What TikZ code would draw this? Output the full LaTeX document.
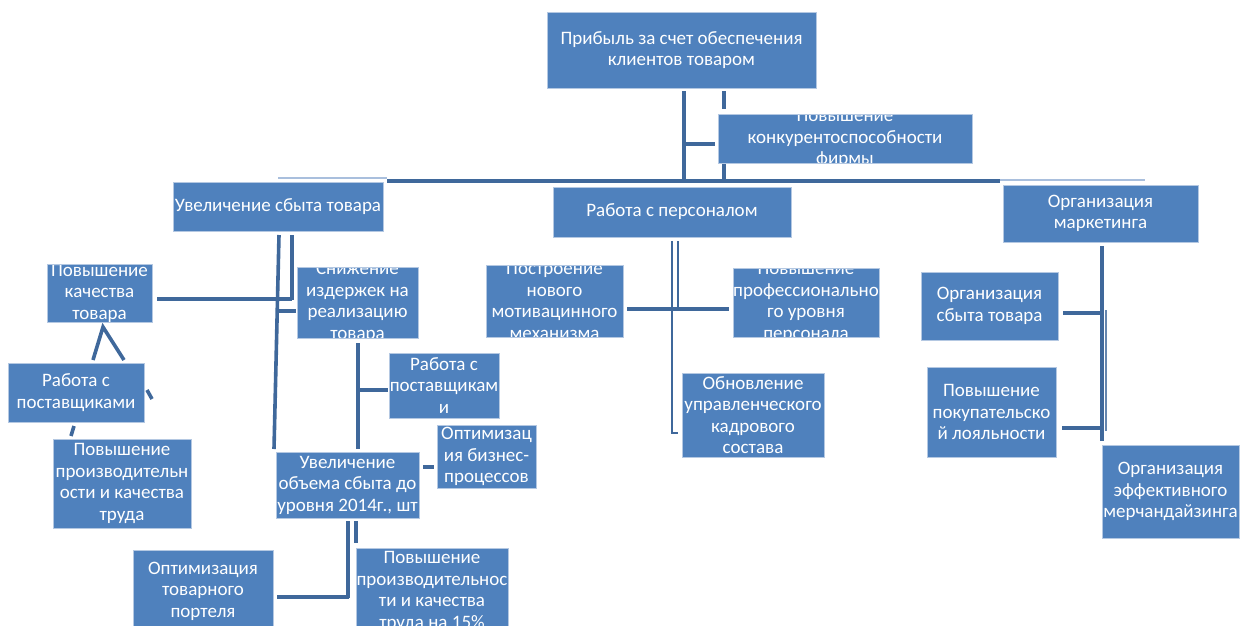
\documentclass[tikz,border=0pt]{standalone}
\usepackage{fontspec}
\setmainfont{Carlito}
\definecolor{boxfill}{HTML}{4F81BD}
\definecolor{boxline}{HTML}{B4C8E2}
\definecolor{conn}{HTML}{3F689B}
\definecolor{connlight}{HTML}{A9BFDD}
\tikzset{
  box/.style={rectangle, fill=boxfill, draw=boxline, line width=0.9pt, inner sep=0pt},
  txt/.style={text=white, align=center, inner sep=0pt, font=\fontsize{19}{21.5}\selectfont},
  cn/.style={draw=conn, line width=3.6pt},
  cnthin/.style={draw=conn, line width=2.2pt},
  cnlight/.style={draw=connlight, line width=2pt}
}
\newcommand\mybox[6]{%
  \node[box, minimum width={#4pt-#2pt}, minimum height={#5pt-#3pt},
    path picture={\node[txt] (#1t) at (path picture bounding box.center) {#6};}]
    (#1) at ({(#2+#4)/2},{(#3+#5)/2}) {};}
\begin{document}
\begin{tikzpicture}[x=1pt,y=-1pt]
\useasboundingbox[fill=white] (0,0) rectangle (1240,625);

% ---------- connectors ----------
% top
\coordinate (t1a) at (684,91);  \coordinate (t1b) at (684,182);
\coordinate (t2a) at (724,91);  \coordinate (t2b) at (724,109);
\coordinate (t3a) at (724,163); \coordinate (t3b) at (724,181);
\coordinate (t4a) at (684,144); \coordinate (t4b) at (715,144);
\coordinate (h0) at (278,178); \coordinate (h1) at (387,178);
\coordinate (h2) at (387,181); \coordinate (h3) at (1000,181);
\coordinate (h4) at (1000,180); \coordinate (h5) at (1145,180);
\draw[cn] (t1a) -- (t1b);
\draw[cn] (t2a) -- (t2b);
\draw[cn] (t3a) -- (t3b);
\draw[cn] (t4a) -- (t4b);
\draw[cnlight] (h0) -- (h1);
\draw[cn] (h2) -- (h3);
\draw[cnlight] (h4) -- (h5);

% left subtree
\coordinate (l1a) at (279,235); \coordinate (l1b) at (274,449);
\coordinate (l2a) at (292,235); \coordinate (l2b) at (292,300);
\coordinate (l3a) at (157,299); \coordinate (l3b) at (292,299);
\coordinate (l4a) at (279,311); \coordinate (l4b) at (296,311);
\coordinate (ap) at (103,327); \coordinate (apl) at (93,360); \coordinate (apr) at (124,360);
\coordinate (k1a) at (147,390); \coordinate (k1b) at (152,399);
\coordinate (k2a) at (74,426); \coordinate (k2b) at (71,436);
\draw[cn] (l1a) -- (l1b);
\draw[cn] (l2a) -- (l2b);
\draw[cn] (l3a) -- (l3b);
\draw[cn] (l4a) -- (l4b);
\draw[cn] (apl) -- (ap) -- (apr);
\draw[cn] (k1a) -- (k1b);
\draw[cn] (k2a) -- (k2b);
\coordinate (m1a) at (358,343); \coordinate (m1b) at (358,449);
\coordinate (m2a) at (358,390); \coordinate (m2b) at (388,390);
\coordinate (m3a) at (423,467); \coordinate (m3b) at (434,467);
\draw[cn] (m1a) -- (m1b);
\draw[cn] (m2a) -- (m2b);
\draw[cn] (m3a) -- (m3b);
\coordinate (b1a) at (348,521); \coordinate (b1b) at (348,598);
\coordinate (b2a) at (356,521); \coordinate (b2b) at (356,543);
\coordinate (b3a) at (277,597); \coordinate (b3b) at (349,597);
\draw[cn] (b1a) -- (b1b);
\draw[cn] (b2a) -- (b2b);
\draw[cn] (b3a) -- (b3b);

% middle subtree
\coordinate (p1a) at (672,241); \coordinate (p1b) at (672,433); \coordinate (p1c) at (678,433);
\coordinate (p2a) at (678,241); \coordinate (p2b) at (678,308);
\coordinate (p3a) at (627,309); \coordinate (p3b) at (729,309);
\draw[cnthin] (p1a) -- (p1b) -- (p1c);
\draw[cnthin] (p2a) -- (p2b);
\draw[cn] (p3a) -- (p3b);

% right subtree
\coordinate (r1a) at (1102,246); \coordinate (r1b) at (1102,441);
\coordinate (r2a) at (1106,310); \coordinate (r2b) at (1106,431);
\coordinate (r3a) at (1063,313); \coordinate (r3b) at (1103,313);
\coordinate (r4a) at (1062,428); \coordinate (r4b) at (1103,428);
\draw[cn] (r1a) -- (r1b);
\draw[draw=conn!80!white, line width=1.5pt] (r2a) -- (r2b);
\draw[cn] (r3a) -- (r3b);
\draw[cn] (r4a) -- (r4b);

% ---------- boxes ----------
\mybox{top}{547}{12}{816}{88}{Прибыль за счет обеспечения\\клиентов товаром}
\mybox{konk}{718}{114}{972}{163}{Повышение\\конкурентоспособности\\фирмы}
\mybox{sbyt}{173}{182}{383}{231}{Увеличение сбыта товара}
\mybox{pers}{553}{187}{791}{237}{Работа с персоналом}
\mybox{mark}{1003}{185}{1198}{242}{Организация\\маркетинга}
\mybox{qual}{47}{264}{152}{322}{Повышение\\качества\\товара}
\mybox{izd}{297}{267}{418}{338}{Снижение\\издержек на\\реализацию\\товара}
\mybox{post1}{8}{363}{144}{422}{Работа с\\поставщиками}
\mybox{proiz1}{53}{439}{191}{528}{Повышение\\производительн\\ости и качества\\труда}
\mybox{post2}{389}{353}{499}{418}{Работа с\\поставщикам\\и}
\mybox{optbp}{437}{425}{536}{488}{Оптимизац\\ия бизнес-\\процессов}
\mybox{obem}{276}{452}{419}{518}{Увеличение\\объема сбыта до\\уровня 2014г., шт}
\mybox{port}{133}{550}{273}{632}{Оптимизация\\товарного\\портеля}
\mybox{proiz2}{356}{548}{508}{635}{Повышение\\производительнос\\ти и качества\\труда на 15\%}
\mybox{motiv}{486}{265}{623}{337}{Построение\\нового\\мотивацинного\\механизма}
\mybox{prof}{733}{268}{879}{337}{Повышение\\профессионально\\го уровня\\персонала}
\mybox{obnov}{682}{373}{824}{457}{Обновление\\управленческого\\кадрового\\состава}
\mybox{orgsb}{921}{272}{1058}{340}{Организация\\сбыта товара}
\mybox{loyal}{927}{367}{1056}{457}{Повышение\\покупательско\\й лояльности}
\mybox{merch}{1102}{445}{1239}{538}{Организация\\эффективного\\мерчандайзинга}
\end{tikzpicture}
\end{document}
